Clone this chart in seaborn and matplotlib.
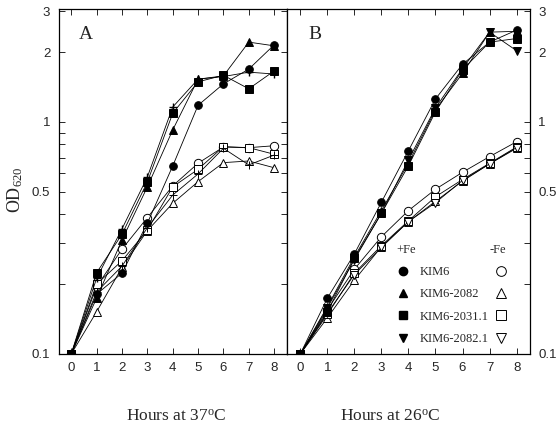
import matplotlib
matplotlib.use("Agg")
import matplotlib.pyplot as plt
from matplotlib.lines import Line2D
from matplotlib.ticker import FixedLocator, NullFormatter
import seaborn as sns

# growth curves, OD620 vs hours
hours = [0, 1, 2, 3, 4, 5, 6, 7, 8]
strains = ["KIM6", "KIM6-2082", "KIM6-2031.1", "KIM6-2082.1"]

# panel A, 37 C
a_fe = {
    "KIM6":        [0.10, 0.181, 0.223, 0.366, 0.646, 1.18, 1.46, 1.69, 2.15],
    "KIM6-2082":   [0.10, 0.174, 0.310, 0.525, 0.924, 1.53, 1.58, 2.21, 2.13],
    "KIM6-2031.1": [0.10, 0.224, 0.328, 0.551, 1.09, 1.49, 1.59, 1.39, 1.66],
    "KIM6-2082.1": [0.10, 0.212, 0.346, 0.579, 1.16, 1.53, 1.57, 1.64, 1.61],
}
a_nofe = {
    "KIM6":        [0.10, 0.195, 0.283, 0.387, 0.530, 0.664, 0.780, 0.775, 0.790],
    "KIM6-2082":   [0.10, 0.152, 0.236, 0.340, 0.446, 0.553, 0.668, 0.679, 0.635],
    "KIM6-2031.1": [0.10, 0.200, 0.252, 0.342, 0.525, 0.625, 0.783, 0.775, 0.726],
    "KIM6-2082.1": [0.10, 0.185, 0.239, 0.350, 0.484, 0.597, 0.770, 0.653, 0.720],
}

# panel B, 26 C
b_fe = {
    "KIM6":        [0.10, 0.174, 0.270, 0.451, 0.752, 1.257, 1.774, 2.21, 2.49],
    "KIM6-2082":   [0.10, 0.160, 0.262, 0.415, 0.665, 1.13, 1.62, 2.44, 2.46],
    "KIM6-2031.1": [0.10, 0.152, 0.258, 0.404, 0.648, 1.107, 1.68, 2.21, 2.29],
    "KIM6-2082.1": [0.10, 0.158, 0.255, 0.404, 0.686, 1.15, 1.70, 2.44, 2.03],
}
b_nofe = {
    "KIM6":        [0.10, 0.155, 0.232, 0.320, 0.415, 0.513, 0.607, 0.709, 0.822],
    "KIM6-2082":   [0.10, 0.143, 0.208, 0.290, 0.372, 0.455, 0.556, 0.660, 0.770],
    "KIM6-2031.1": [0.10, 0.148, 0.223, 0.293, 0.375, 0.476, 0.565, 0.664, 0.780],
    "KIM6-2082.1": [0.10, 0.150, 0.220, 0.288, 0.372, 0.449, 0.560, 0.660, 0.776],
}

markers_a = ["o", "^", "s", "+"]
markers_b = ["o", "^", "s", "v"]

sns.set_style("ticks")
plt.rcParams["font.family"] = ["Liberation Sans", "DejaVu Sans"]
plt.rcParams["mathtext.fontset"] = "custom"
plt.rcParams["mathtext.rm"] = "Liberation Serif"
plt.rcParams["mathtext.it"] = "Liberation Serif:italic"
serif = ["Liberation Serif", "DejaVu Serif"]

fig = plt.figure(figsize=(5.58, 4.29), dpi=100)
axA = fig.add_axes([0.105, 0.175, 0.409, 0.804])
axB = fig.add_axes([0.514, 0.175, 0.436, 0.804])


def draw(ax, fe, nofe, markers):
    for s, m in zip(strains, markers):
        sns.lineplot(x=hours, y=nofe[s], ax=ax, color="black", lw=0.6,
                     marker=m, ms=6, mfc="white", mec="black", mew=0.7,
                     zorder=2)
    for s, m in zip(strains, markers):
        sns.lineplot(x=hours, y=fe[s], ax=ax, color="black", lw=0.6,
                     marker=m, ms=5.5, mfc="black", mec="black",
                     mew=1.0 if m == "+" else 0.7, zorder=3)
    ax.set_yscale("log")
    ax.set_ylim(0.1, 3.07)
    ax.set_xlim(-0.5, 8.5)
    ax.set_xticks(hours)
    ax.yaxis.set_major_locator(FixedLocator([0.1, 0.5, 1, 2, 3]))
    ax.yaxis.set_minor_locator(FixedLocator([0.2, 0.3, 0.4, 0.6, 0.7, 0.8, 0.9]))
    ax.set_yticklabels(["0.1", "0.5", "1", "2", "3"])
    ax.yaxis.set_minor_formatter(NullFormatter())
    ax.tick_params(which="both", direction="in", length=4, width=0.7,
                   labelsize=9.5, top=True, pad=6)
    for sp in ax.spines.values():
        sp.set_linewidth(0.9)
        sp.set_color("black")
    ax.set_xlabel("")
    ax.set_ylabel("")


draw(axA, a_fe, a_nofe, markers_a)
draw(axB, b_fe, b_nofe, markers_b)

axA.tick_params(which="both", left=True, right=True, labelleft=True, labelright=False)
axB.tick_params(which="both", left=False, right=True, labelleft=False, labelright=True)

axA.text(0.09, 0.925, "A", transform=axA.transAxes, fontsize=14,
         family=serif, va="center")
axB.text(0.09, 0.925, "B", transform=axB.transAxes, fontsize=14,
         family=serif, va="center")

# legend: filled (+Fe) column with names, open (-Fe) column
filled = [Line2D([], [], ls="none", marker=m, ms=6, mfc="black", mec="black")
          for m in markers_b]
hollow = [Line2D([], [], ls="none", marker=m, ms=7, mfc="white", mec="black", mew=0.7)
          for m in markers_b]
axB.legend(handles=filled + hollow, labels=strains + [""] * 4, ncol=2,
           loc="upper left", bbox_to_anchor=(0.45, 0.255), frameon=False,
           prop={"family": serif, "size": 9}, handlelength=1.0,
           handletextpad=0.9, columnspacing=0.48, labelspacing=0.83,
           borderpad=0, borderaxespad=0)
axB.text(0.49, 0.30, "+Fe", transform=axB.transAxes, fontsize=9,
         family=serif, ha="center", va="center")
axB.text(0.868, 0.30, "-Fe", transform=axB.transAxes, fontsize=9,
         family=serif, ha="center", va="center")

fig.text(0.027, 0.557, r"OD$_{620}$", rotation=90, fontsize=13,
         family=serif, ha="center", va="center")
fig.text(0.316, 0.028, r"Hours at 37$^{\rm o}$C", fontsize=12.5,
         family=serif, ha="center", va="center")
fig.text(0.70, 0.028, r"Hours at 26$^{\rm o}$C", fontsize=12.5,
         family=serif, ha="center", va="center")

fig.savefig("out.png", dpi=100)
